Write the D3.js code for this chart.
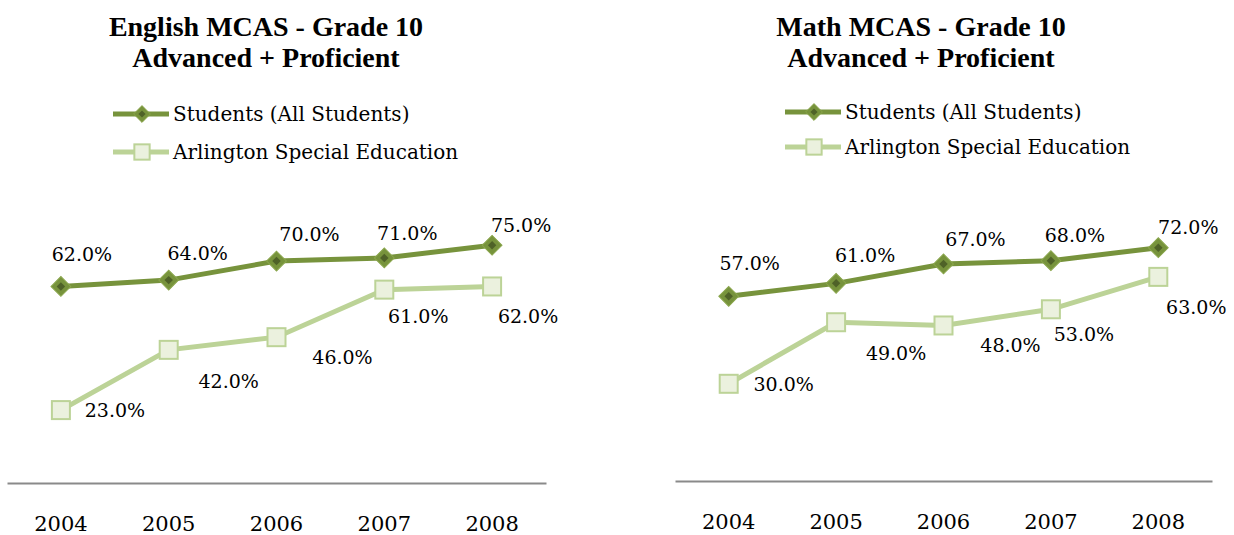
<!DOCTYPE html>
<html>
<head>
<meta charset="utf-8">
<script src="https://cdn.jsdelivr.net/npm/d3@7"></script>
<style>
  body { margin: 0; background: #fff; }
</style>
</head>
<body>
<div id="chart"></div>
<script>
// chart data
const years = ["2004", "2005", "2006", "2007", "2008"];
const seriesNames = ["Students (All Students)", "Arlington Special Education"];
const englishAll = [62, 64, 70, 71, 75];
const englishSped = [23, 42, 46, 61, 62];
const mathAll = [57, 61, 67, 68, 72];
const mathSped = [30, 49, 48, 53, 63];

const W = 1234, H = 535;
const TITLE_FONT = "'Liberation Serif', serif";
const FONT = "'DejaVu Serif', serif";
const darkGreen = "#77933c", lightGreen = "#bcd397";

const svg = d3.select("#chart").append("svg")
    .attr("width", W)
    .attr("height", H)
    .attr("font-family", FONT);

// draws one panel
function drawPanel(p) {
  let g = svg.append("g");

  let x = d3.scaleBand()
      .domain(years)
      .range([p.left, p.right]);
  let y = d3.scaleLinear()
      .domain([0, 100])
      .range([p.bottom, p.top]);

  // title
  [p.title, "Advanced + Proficient"].forEach((t, i) => {
    g.append("text")
        .attr("x", p.titleX).attr("y", 36 + i * 31)
        .attr("text-anchor", "middle")
        .attr("font-family", TITLE_FONT)
        .style("font-size", "28px").style("font-weight", "bold")
        .text(t);
  });

  // x axis
  let xaxis = d3.axisBottom(x).tickSize(0).tickPadding(33);
  let ax = g.append("g")
      .attr("transform", `translate(0, ${p.bottom})`)
      .call(xaxis)
      .attr("font-family", FONT);
  ax.select(".domain").attr("stroke", "#8a8a8a").attr("stroke-width", 2);
  ax.selectAll("text")
      .attr("font-family", FONT)
      .attr("fill", "#000")
      .style("font-size", "21px");

  let cx = d => x(d) + x.bandwidth() / 2;
  let line = d3.line().x((d, i) => cx(years[i])).y(d => y(d));

  // legend
  let lg = g.append("g");
  [0, 1].forEach(k => {
    let ly = p.legendY[k];
    lg.append("line")
        .attr("x1", p.legendX).attr("x2", p.legendX + 56)
        .attr("y1", ly).attr("y2", ly)
        .attr("stroke", k === 0 ? darkGreen : lightGreen)
        .attr("stroke-width", 5);
    drawMarker(lg, k, p.legendX + 29, ly, 0.85);
    lg.append("text")
        .attr("x", p.legendX + 60).attr("y", ly + 7)
        .attr("font-family", FONT)
        .style("font-size", "20px")
        .text(seriesNames[k]);
  });

  // series
  [p.sped, p.all].forEach((vals, j) => {
    let k = j === 0 ? 1 : 0;
    g.append("path")
        .datum(vals)
        .attr("d", line)
        .attr("fill", "none")
        .attr("stroke", k === 0 ? darkGreen : lightGreen)
        .attr("stroke-width", 5);
    vals.forEach((v, i) => drawMarker(g, k, cx(years[i]), y(v), 1));
  });

  // data labels
  [[p.all, p.allOff], [p.sped, p.spedOff]].forEach(([vals, off]) => {
    g.selectAll(null).data(vals).enter().append("text")
        .attr("x", (d, i) => cx(years[i]) + off[i][0])
        .attr("y", (d, i) => y(d) + off[i][1] + 7)
        .attr("text-anchor", "middle")
        .attr("font-family", FONT)
        .style("font-size", "19px")
        .text(d => d.toFixed(1) + "%");
  });
}

function drawMarker(g, k, mx, my, s) {
  if (k === 0) {
    g.append("rect")
        .attr("x", -7).attr("y", -7).attr("width", 14).attr("height", 14)
        .attr("transform", `translate(${mx},${my}) rotate(45) scale(${s})`)
        .attr("fill", darkGreen)
        .attr("stroke", "#8aa64c").attr("stroke-width", 1);
    g.append("rect")
        .attr("x", -3).attr("y", -3).attr("width", 6).attr("height", 6)
        .attr("transform", `translate(${mx},${my}) rotate(45) scale(${s})`)
        .attr("fill", "#4f6228");
  } else {
    let h = 9 * s;
    g.append("rect")
        .attr("x", mx - h).attr("y", my - h).attr("width", 2 * h).attr("height", 2 * h)
        .attr("fill", "#ebf1de")
        .attr("stroke", lightGreen).attr("stroke-width", 2);
  }
}

drawPanel({
  title: "English MCAS - Grade 10", titleX: 266,
  left: 7, right: 546, top: 166, bottom: 483,
  legendX: 113, legendY: [114, 152],
  all: englishAll, sped: englishSped,
  allOff: [[21, -32], [29, -27], [33, -27], [23, -25], [29, -20]],
  spedOff: [[54, 0], [60, 31], [66, 20], [34, 26], [36, 30]]
});

drawPanel({
  title: "Math MCAS - Grade 10", titleX: 921,
  left: 675, right: 1212, top: 157, bottom: 481,
  legendX: 785, legendY: [112, 147],
  all: mathAll, sped: mathSped,
  allOff: [[21, -33], [29, -28], [32, -25], [24, -26], [30, -21]],
  spedOff: [[55, 0], [60, 31], [67, 20], [33, 25], [38, 30]]
});
</script>
</body>
</html>
